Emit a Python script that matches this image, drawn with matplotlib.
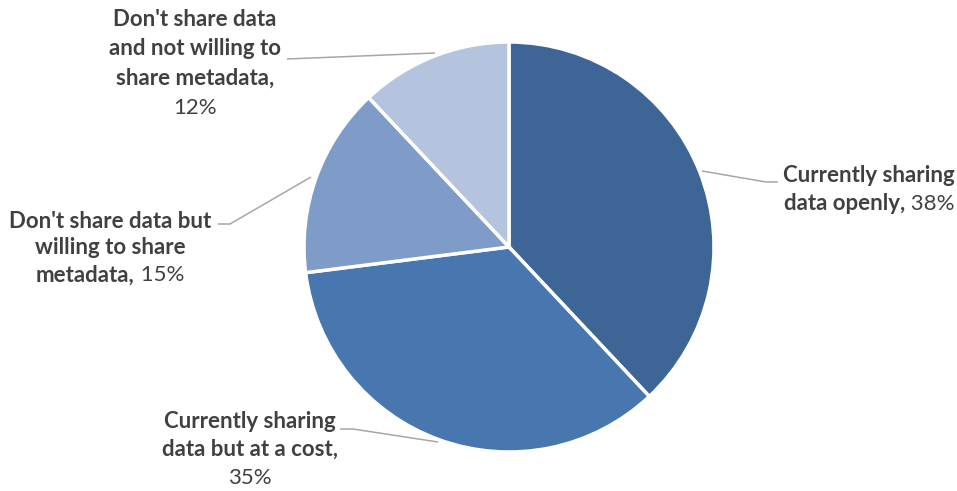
import matplotlib
matplotlib.use("Agg")
import matplotlib.pyplot as plt

# data
labels = ["Currently sharing data openly",
          "Currently sharing data but at a cost",
          "Don't share data but willing to share metadata",
          "Don't share data and not willing to share metadata"]
shares = [38, 35, 15, 12]
colors = ["#3D6595", "#4876AF", "#7F9CC8", "#B4C4DE"]

# label layout: lines of the bold name, where the "xx%" part goes, block centre
label_lines = [
    ["Currently sharing", "data openly,"],
    ["Currently sharing", "data but at a cost,", None],
    ["Don't share data but", "willing to share", "metadata,"],
    ["Don't share data", "and not willing to", "share metadata,", None],
]
label_pos = [(869, 176), (250, 421), (110, 221), (195, 19)]
line_step = [28, 28.5, 27, 29.5]
leaders = [
    [(702, 171), (766, 182), (778, 182)],
    [(340, 429), (353, 429), (438, 442)],
    [(218, 224), (230, 224), (311, 177)],
    [(287, 59), (435, 53)],
]

W, H = 957, 491
fig = plt.figure(figsize=(W / 100, H / 100), dpi=100)
ax = fig.add_axes([0, 0, 1, 1])

# y axis is flipped below, so "counterclock" in data is clockwise on screen
ax.pie(shares, colors=colors, startangle=-90, counterclock=True,
       center=(509, 247), radius=205, frame=True,
       wedgeprops=dict(edgecolor="white", linewidth=2.5))
ax.set_xlim(0, W)
ax.set_ylim(H, 0)
ax.set_aspect("equal")
ax.axis("off")

for pts in leaders:
    xs, ys = zip(*pts)
    ax.plot(xs, ys, color="#A6A6A6", lw=1.1, solid_capstyle="butt")

fs = 16
tc = "#404040"
fam = "Lato"
fig.canvas.draw()
r = fig.canvas.get_renderer()


def text_width(s, weight):
    t = ax.text(0, 0, s, fontsize=fs, fontweight=weight, family=fam)
    w = t.get_window_extent(renderer=r).width
    t.remove()
    return w


for lines, (cx, cy), step, pct in zip(label_lines, label_pos, line_step, shares):
    for i, ln in enumerate(lines):
        y = cy + i * step
        if ln is None:
            ax.text(cx, y, f"{pct}%", fontsize=fs, color=tc, family=fam,
                    ha="center", va="center")
        elif i == len(lines) - 1:
            tail = f" {pct}%"
            wb = text_width(ln, "bold")
            wr = text_width(tail, "normal")
            x0 = cx - (wb + wr) / 2
            ax.text(x0, y, ln, fontsize=fs, fontweight="bold", color=tc,
                    family=fam, ha="left", va="center")
            ax.text(x0 + wb, y, tail, fontsize=fs, color=tc, family=fam,
                    ha="left", va="center")
        else:
            ax.text(cx, y, ln, fontsize=fs, fontweight="bold", color=tc,
                    family=fam, ha="center", va="center")

fig.savefig("out.png", dpi=100)
